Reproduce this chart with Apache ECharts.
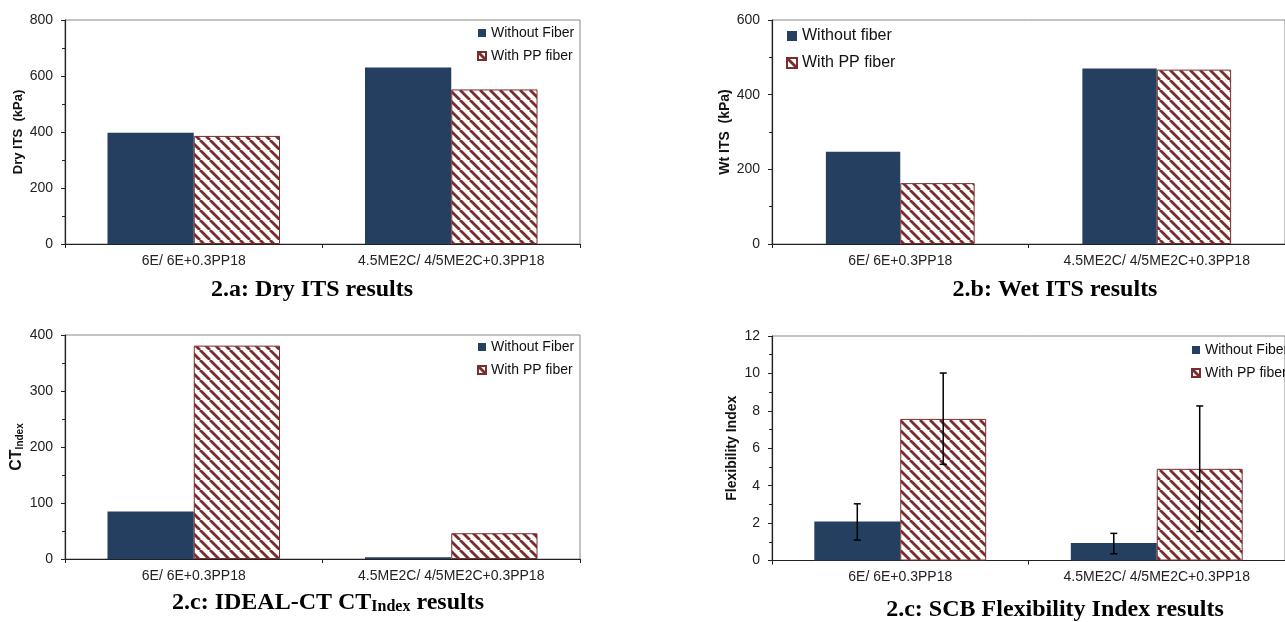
<!DOCTYPE html>
<html><head><meta charset="utf-8">
<script src="https://cdn.jsdelivr.net/npm/echarts@6/dist/echarts.min.js"></script>
<style>html,body{margin:0;padding:0;background:#fff}#c{width:1285px;height:622px}</style>
</head><body><div id="c"></div>
<script>
// ---------- data ----------
const categories = ['6E/ 6E+0.3PP18', '4.5ME2C/ 4/5ME2C+0.3PP18'];
const dryWithout = [397, 630];
const dryWith = [386, 552];
const wetWithout = [247, 470];
const wetWith = [163, 467];
const ctWithout = [85, 3];
const ctWith = [381, 46];
const fiWithout = [2.09, 0.93];
const fiWith = [7.57, 4.90];
const fiWithoutErr = [[1.09, 3.03], [0.36, 1.45]];
const fiWithErr = [[5.14, 10.02], [1.55, 8.26]];
const yNames = ['Dry ITS  (kPa)', 'Wt ITS  (kPa)', '{a|CT}{b|Index}', 'Flexibility Index'];
const yMax = [800, 600, 400, 12];
const yInterval = [200, 200, 100, 2];
const legendA = ['Without Fiber', 'With PP fiber'];
const legendB = ['Without fiber', 'With PP fiber'];

// ---------- styling ----------
const NAVY = '#243F60';
const RED = '#7B2C2C';
const SANS = '"Liberation Sans", Arial, sans-serif';
const SERIF = '"Liberation Serif", "Times New Roman", serif';

function hatchCanvas() {
  const s = 10, c = document.createElement('canvas');
  c.width = s; c.height = s;
  const g = c.getContext('2d');
  g.fillStyle = '#fff'; g.fillRect(0, 0, s, s);
  g.strokeStyle = RED; g.lineWidth = 2.8;
  for (const k of [-s, 0, s]) { g.beginPath(); g.moveTo(k, 0); g.lineTo(k + s, s); g.stroke(); }
  return c;
}
const HATCH = { image: hatchCanvas(), repeat: 'repeat' };

const grids = [
  { left: 65, top: 20, width: 515, height: 224 },
  { left: 772, top: 20, width: 516, height: 224 },
  { left: 65, top: 335, width: 515, height: 224 },
  { left: 772, top: 336, width: 522, height: 224.5 }
].map(g => Object.assign(g, { show: true, borderColor: '#888', borderWidth: 1, containLabel: false }));

const xAxes = grids.map((g, i) => ({
  type: 'category', gridIndex: i, data: categories,
  axisLine: { lineStyle: { color: '#222', width: 1.2 } },
  axisTick: { show: true, interval: 0, length: 4, lineStyle: { color: '#222' } },
  axisLabel: { fontSize: 14, fontFamily: SANS, color: '#222', margin: 10, interval: 0 }
}));

const nameGaps = [40, 40, 40, 33];
const yAxes = grids.map((g, i) => ({
  type: 'value', gridIndex: i, min: 0, max: yMax[i], interval: yInterval[i],
  name: yNames[i], nameLocation: 'middle', nameGap: nameGaps[i],
  nameTextStyle: {
    fontSize: i === 0 ? 13 : 14, fontWeight: 'bold', fontFamily: SANS, color: '#111',
    rich: { a: { fontSize: 16, fontWeight: 'bold', fontFamily: SANS, color: '#111' },
            b: { fontSize: 10, fontWeight: 'bold', fontFamily: SANS, color: '#111', verticalAlign: 'bottom', padding: [6, 0, 0, 0] } }
  },
  axisLine: { show: true, lineStyle: { color: '#222', width: 1.2 } },
  axisTick: { show: true, length: 4, lineStyle: { color: '#222' } },
  minorTick: { show: true, splitNumber: 2, length: 3, lineStyle: { color: '#222' } },
  splitLine: { show: false },
  axisLabel: { fontSize: 14, fontFamily: SANS, color: '#222', margin: 12 }
}));

function barPair(i, names, without, withv, gap) {
  return [
    { type: 'bar', name: names[0], xAxisIndex: i, yAxisIndex: i, data: without,
      barGap: '0%', barCategoryGap: gap, itemStyle: { color: NAVY } },
    { type: 'bar', name: names[1], xAxisIndex: i, yAxisIndex: i, data: withv,
      barGap: '0%', barCategoryGap: gap, itemStyle: { color: HATCH, borderColor: RED, borderWidth: 1 } }
  ];
}

function errSeries(errs, side, gapFrac) {
  return {
    type: 'custom', xAxisIndex: 3, yAxisIndex: 3, z: 10, silent: true,
    data: errs.map((e, k) => [k, e[0], e[1]]),
    encode: { x: 0, y: [1, 2] },
    renderItem: function (params, api) {
      const k = api.value(0);
      const lo = api.coord([k, api.value(1)]);
      const hi = api.coord([k, api.value(2)]);
      const band = api.size([1, 0])[0];
      const bw = band * (1 - gapFrac) / 2;
      const x = lo[0] + side * bw / 2;
      const cap = 3.5;
      const st = { stroke: '#000', lineWidth: 1.5 };
      return { type: 'group', children: [
        { type: 'line', shape: { x1: x, y1: lo[1], x2: x, y2: hi[1] }, style: st },
        { type: 'line', shape: { x1: x - cap, y1: lo[1], x2: x + cap, y2: lo[1] }, style: st },
        { type: 'line', shape: { x1: x - cap, y1: hi[1], x2: x + cap, y2: hi[1] }, style: st }
      ] };
    }
  };
}

const legendCommon = { orient: 'vertical', padding: 0, itemWidth: 8, itemHeight: 8, icon: 'rect',
  textStyle: { fontSize: 14, fontFamily: SANS, color: '#111' } };

const option = {
  animation: false,
  backgroundColor: '#fff',
  grid: grids, xAxis: xAxes, yAxis: yAxes,
  legend: [
    Object.assign({}, legendCommon, { left: 477, top: 26, itemGap: 9, data: legendA }),
    Object.assign({}, legendCommon, { left: 786, top: 28, itemGap: 11, itemWidth: 10, itemHeight: 10,
      textStyle: { fontSize: 16, fontFamily: SANS, color: '#111' }, data: legendB }),
    Object.assign({}, legendCommon, { left: 477, top: 340, itemGap: 9, data: legendA }),
    Object.assign({}, legendCommon, { left: 1191, top: 343, itemGap: 9, data: legendA })
  ],
  series: [].concat(
    barPair(0, legendA, dryWithout, dryWith, '33%'),
    barPair(1, legendB, wetWithout, wetWith, '42%'),
    barPair(2, legendA, ctWithout, ctWith, '33%'),
    barPair(3, legendA, fiWithout, fiWith, '33%'),
    [errSeries(fiWithoutErr, -1, 0.33), errSeries(fiWithErr, 1, 0.33)]
  ),
  graphic: [
    { type: 'text', x: 312, y: 290, style: { text: '2.a: Dry ITS results', font: 'bold 24px ' + SERIF, fill: '#000', align: 'center', verticalAlign: 'middle' } },
    { type: 'text', x: 1055, y: 290, style: { text: '2.b: Wet ITS results', font: 'bold 24px ' + SERIF, fill: '#000', align: 'center', verticalAlign: 'middle' } },
    { type: 'text', x: 328, y: 603, style: { text: '{a|2.c: IDEAL-CT CT}{b|Index}{a| results}', align: 'center', verticalAlign: 'middle',
      rich: { a: { font: 'bold 24px ' + SERIF, fill: '#000', verticalAlign: 'bottom' },
              b: { font: 'bold 16px ' + SERIF, fill: '#000', verticalAlign: 'bottom' } } } },
    { type: 'text', x: 1055, y: 610, style: { text: '2.c: SCB Flexibility Index results', font: 'bold 24px ' + SERIF, fill: '#000', align: 'center', verticalAlign: 'middle' } }
  ]
};

const chart = echarts.init(document.getElementById('c'), null, { renderer: 'canvas' });
chart.setOption(option);
</script>
</body></html>
